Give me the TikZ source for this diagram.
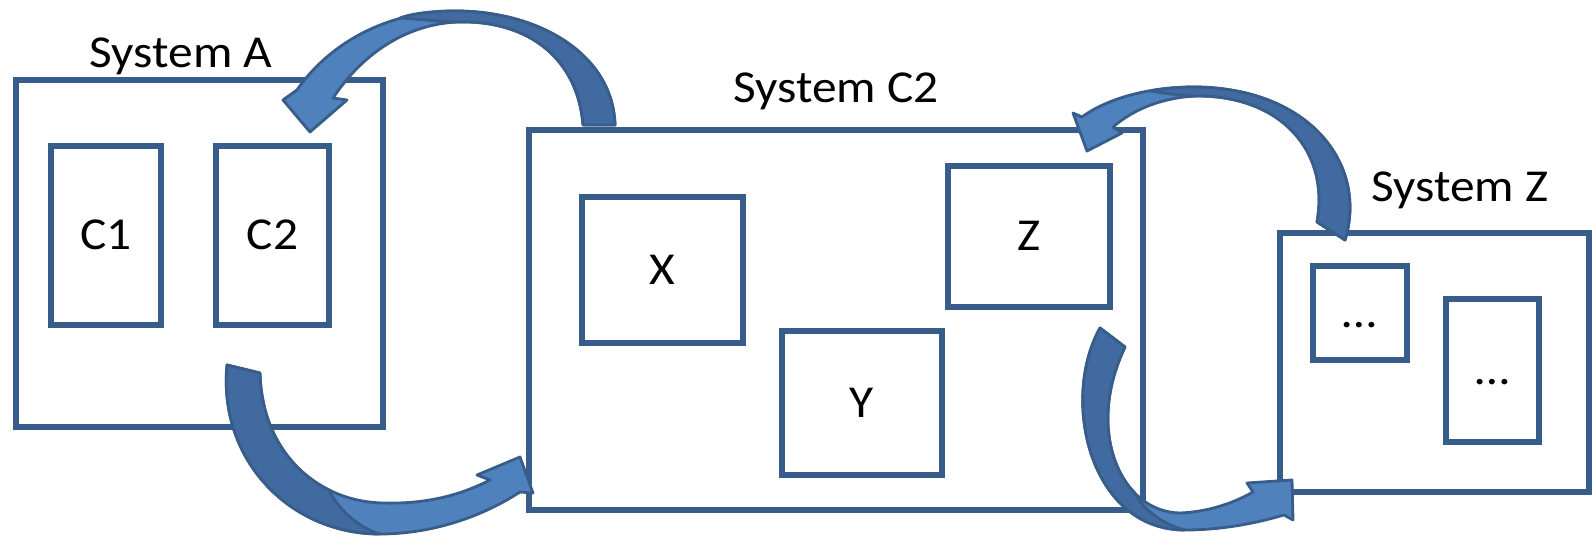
\documentclass[tikz,border=0pt]{standalone}
\usepackage{fontspec}
\setmainfont{Carlito}[FakeStretch=1.08]
\usepackage{tikz}

\definecolor{boxblue}{RGB}{56,93,138}
\definecolor{arrowblue}{RGB}{79,129,189}
\definecolor{arrowshade}{RGB}{64,106,160}

\tikzstyle{sysbox}=[rectangle, draw=boxblue, line width=1.7pt, inner sep=0pt]
\tikzstyle{partbox}=[sysbox, font=\fontsize{13}{15}\selectfont, text height=0.9em, text depth=0.1em]
\tikzstyle{syslabel}=[anchor=base, inner sep=0pt, font=\fontsize{13}{15}\selectfont]
\tikzstyle{curvearrow}=[fill=arrowblue, draw=boxblue, line width=0.8pt, line join=round]
\tikzstyle{curveshade}=[curvearrow, fill=arrowshade]

\begin{document}
\begin{tikzpicture}[x=0.01cm, y=-0.01cm]
	\useasboundingbox (0,0) rectangle (1596,537);

	% the three systems
	\foreach \pos/\w/\h/\name in {(199.5,253.5)/3.67/3.47/sysA, (836,320)/6.14/3.80/sysC, (1434.5,362.5)/3.09/2.59/sysZ}
	\node[sysbox, minimum width=\w cm, minimum height=\h cm] (\name) at \pos {};

	% their parts
	\foreach \pos/\w/\h/\name/\lbl in {
		(106,235.5)/1.10/1.79/c1/C1, (272.5,235.5)/1.13/1.79/c2/C2,
		(662.5,270)/1.61/1.46/x/X, (862,403)/1.60/1.44/y/Y, (1029,236.5)/1.62/1.41/z/Z,
		(1360,313)/0.94/0.94/z1/{…}, (1492.5,370.5)/0.93/1.43/z2/{…}}
	\node[partbox, minimum width=\w cm, minimum height=\h cm] (\name) at \pos {\lbl};

	% names above the systems
	\foreach \pos/\name/\lbl in {(181,68)/labA/System A, (836,103)/labC/System C2, (1460,202)/labZ/System Z}
	\node[syslabel] (\name) at \pos {\lbl};

	% C2 -> A, over the top
	\path[curvearrow] (615,125) .. controls (613,55) and (540,11) .. (455,11) .. controls (385,11) and (328,45) .. (297,90)
		-- (283,100) -- (310,132) -- (347,100) -- (333,98)
		.. controls (365,50) and (410,24) .. (458,22) .. controls (530,20) and (578,60) .. (583,125) -- cycle;
	\path[curveshade] (615,125) .. controls (613,55) and (540,11) .. (455,11) .. controls (430,11) and (410,14) .. (400,18)
		.. controls (420,19) and (440,22) .. (458,22) .. controls (530,20) and (578,60) .. (583,125) -- cycle;

	% A -> C2, underneath
	\path[curvearrow] (227,365) .. controls (218,460) and (290,534) .. (380,534) .. controls (430,534) and (480,518) .. (520,492)
		-- (533,493) -- (520,457) -- (477,475) -- (490,480)
		.. controls (455,498) and (420,504) .. (383,503) .. controls (320,502) and (262,455) .. (260,373) -- cycle;
	\path[curveshade] (227,365) .. controls (218,460) and (290,534) .. (380,534) .. controls (360,528) and (340,512) .. (329,490)
		.. controls (290.2,470.7) and (261.4,430.4) .. (260,373) -- cycle;

	% Z -> C2, over the top
	\path[curvearrow] (1345,240) .. controls (1368,165) and (1310,88) .. (1195,87) .. controls (1145,87) and (1105,100) .. (1082,117)
		-- (1073,113) -- (1087,151) -- (1122,133) -- (1113,127)
		.. controls (1135,108) and (1165,97) .. (1198,96) .. controls (1280,96) and (1330,150) .. (1317,222) -- cycle;
	\path[curveshade] (1345,240) .. controls (1368,165) and (1310,88) .. (1195,87) .. controls (1180,87) and (1165,88) .. (1150,91)
		.. controls (1165,93) and (1180,96) .. (1198,96) .. controls (1280,96) and (1330,150) .. (1317,222) -- cycle;

	% C2 -> Z, underneath
	\path[curvearrow] (1100,328) .. controls (1060,400) and (1090,530) .. (1185,530) .. controls (1225,530) and (1260,522) .. (1284,515)
		-- (1293,520) -- (1292,480) -- (1247,483) -- (1253,492)
		.. controls (1230,505) and (1205,512) .. (1180,513) .. controls (1120,512) and (1085,430) .. (1125,347) -- cycle;
	\path[curveshade] (1100,328) .. controls (1060,400) and (1090,530) .. (1185,530) .. controls (1165,525) and (1145,512) .. (1134.1,492.4)
		.. controls (1105.75,462.7) and (1097,405.1) .. (1125,347) -- cycle;
\end{tikzpicture}
\end{document}
